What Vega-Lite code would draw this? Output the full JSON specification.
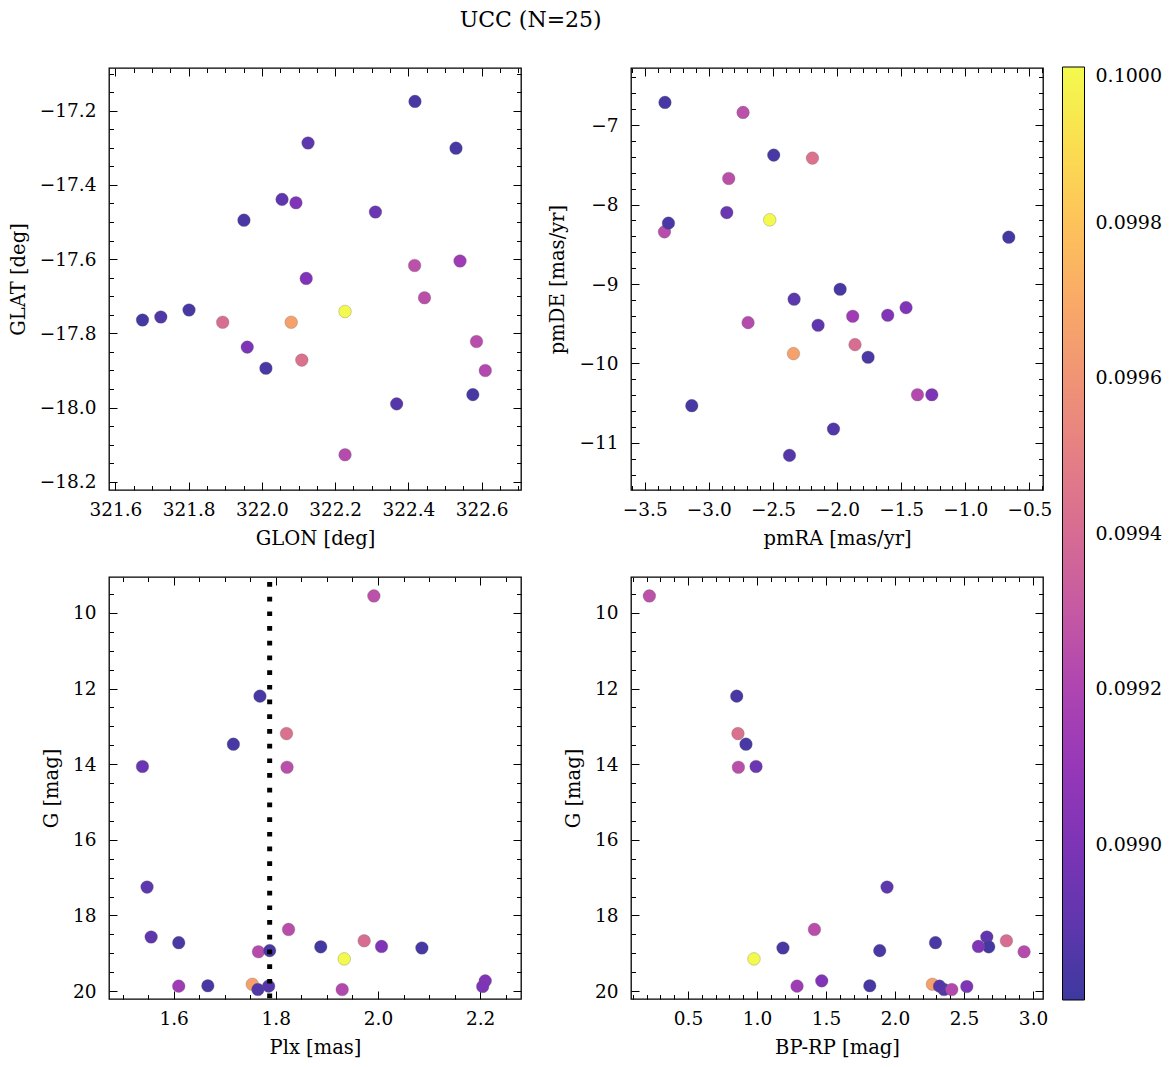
{
  "$schema": "https://vega.github.io/schema/vega-lite/v6.json",
  "padding": {"left": 7, "top": 8, "right": 0, "bottom": 0},
  "background": "white",
  "title": {"text": "UCC (N=25)", "anchor": "start", "dx": 452, "offset": 32, "font": "DejaVu Serif", "fontSize": 22, "fontWeight": "normal", "color": "black"},
  "config": {
    "font": "DejaVu Serif",
    "view": {"stroke": "black", "strokeWidth": 1.3},
    "axis": {"grid": false, "domain": false, "tickColor": "black", "tickWidth": 1, "labelFont": "DejaVu Serif", "labelFontSize": 18.5, "labelColor": "black", "titleFont": "DejaVu Serif", "titleFontSize": 19.5, "titleFontWeight": "normal", "titleColor": "black", "labelFlush": false, "labelOverlap": false},
    "axisX": {"labelPadding": 18, "titlePadding": 7},
    "axisY": {"labelPadding": 21, "titlePadding": 11},
    "legend": {"orient": "none", "legendX": 953.5, "legendY": -1, "gradientLength": 933, "gradientThickness": 22, "gradientStrokeColor": "black", "gradientStrokeWidth": 1, "labelFont": "DejaVu Serif", "labelFontSize": 19, "labelColor": "black", "labelOffset": 11, "labelOverlap": false, "padding": 0, "direction": "vertical"}
  },
  "datasets": {
    "stars": [
      {"GLON": 322.417, "GLAT": -17.617, "pmRA": -2.733, "pmDE": -6.841, "Plx": 1.992, "G": 9.55, "BPRP": 0.220, "prob": 0.09926},
      {"GLON": 322.418, "GLAT": -17.175, "pmRA": -3.342, "pmDE": -6.715, "Plx": 1.769, "G": 12.20, "BPRP": 0.853, "prob": 0.09883},
      {"GLON": 322.109, "GLAT": -17.872, "pmRA": -2.192, "pmDE": -7.416, "Plx": 1.821, "G": 13.19, "BPRP": 0.862, "prob": 0.09943},
      {"GLON": 322.530, "GLAT": -17.301, "pmRA": -2.494, "pmDE": -7.378, "Plx": 1.717, "G": 13.47, "BPRP": 0.920, "prob": 0.09883},
      {"GLON": 322.310, "GLAT": -17.473, "pmRA": -2.860, "pmDE": -8.101, "Plx": 1.539, "G": 14.06, "BPRP": 0.993, "prob": 0.09893},
      {"GLON": 322.444, "GLAT": -17.704, "pmRA": -2.845, "pmDE": -7.672, "Plx": 1.822, "G": 14.08, "BPRP": 0.865, "prob": 0.09925},
      {"GLON": 322.126, "GLAT": -17.287, "pmRA": -2.335, "pmDE": -9.191, "Plx": 1.548, "G": 17.25, "BPRP": 1.942, "prob": 0.09889},
      {"GLON": 322.586, "GLAT": -17.822, "pmRA": -3.346, "pmDE": -8.344, "Plx": 1.825, "G": 18.37, "BPRP": 1.416, "prob": 0.09924},
      {"GLON": 322.055, "GLAT": -17.439, "pmRA": -2.148, "pmDE": -9.519, "Plx": 1.556, "G": 18.57, "BPRP": 2.665, "prob": 0.09890},
      {"GLON": 321.893, "GLAT": -17.770, "pmRA": -1.860, "pmDE": -9.763, "Plx": 1.973, "G": 18.67, "BPRP": 2.807, "prob": 0.09941},
      {"GLON": 321.951, "GLAT": -17.495, "pmRA": -3.315, "pmDE": -8.234, "Plx": 1.610, "G": 18.72, "BPRP": 2.293, "prob": 0.09884},
      {"GLON": 321.674, "GLAT": -17.764, "pmRA": -0.661, "pmDE": -8.411, "Plx": 1.888, "G": 18.83, "BPRP": 2.679, "prob": 0.09882},
      {"GLON": 322.093, "GLAT": -17.448, "pmRA": -1.462, "pmDE": -9.297, "Plx": 2.007, "G": 18.82, "BPRP": 2.604, "prob": 0.09901},
      {"GLON": 321.801, "GLAT": -17.737, "pmRA": -1.976, "pmDE": -9.066, "Plx": 2.086, "G": 18.86, "BPRP": 1.188, "prob": 0.09883},
      {"GLON": 322.227, "GLAT": -18.127, "pmRA": -2.694, "pmDE": -9.486, "Plx": 1.766, "G": 18.96, "BPRP": 2.935, "prob": 0.09923},
      {"GLON": 322.011, "GLAT": -17.894, "pmRA": -1.758, "pmDE": -9.922, "Plx": 1.788, "G": 18.93, "BPRP": 1.889, "prob": 0.09884},
      {"GLON": 322.227, "GLAT": -17.741, "pmRA": -2.525, "pmDE": -8.193, "Plx": 1.934, "G": 19.15, "BPRP": 0.978, "prob": 0.10000},
      {"GLON": 322.121, "GLAT": -17.652, "pmRA": -1.605, "pmDE": -9.393, "Plx": 2.210, "G": 19.73, "BPRP": 1.469, "prob": 0.09902},
      {"GLON": 321.960, "GLAT": -17.837, "pmRA": -1.261, "pmDE": -10.393, "Plx": 2.205, "G": 19.88, "BPRP": 2.520, "prob": 0.09900},
      {"GLON": 322.541, "GLAT": -17.605, "pmRA": -1.878, "pmDE": -9.406, "Plx": 1.610, "G": 19.87, "BPRP": 1.290, "prob": 0.09914},
      {"GLON": 322.576, "GLAT": -17.965, "pmRA": -3.133, "pmDE": -10.531, "Plx": 1.667, "G": 19.86, "BPRP": 1.817, "prob": 0.09883},
      {"GLON": 322.080, "GLAT": -17.770, "pmRA": -2.340, "pmDE": -9.876, "Plx": 1.754, "G": 19.82, "BPRP": 2.271, "prob": 0.09966},
      {"GLON": 321.724, "GLAT": -17.756, "pmRA": -2.028, "pmDE": -10.825, "Plx": 1.765, "G": 19.96, "BPRP": 2.355, "prob": 0.09886},
      {"GLON": 322.368, "GLAT": -17.990, "pmRA": -2.371, "pmDE": -11.156, "Plx": 1.786, "G": 19.87, "BPRP": 2.322, "prob": 0.09887},
      {"GLON": 322.610, "GLAT": -17.900, "pmRA": -1.373, "pmDE": -10.393, "Plx": 1.930, "G": 19.96, "BPRP": 2.411, "prob": 0.09922}
    ],
    "plxline": [{"Plx": 1.788}]
  },
  "columns": 2,
  "spacing": {"row": 87, "column": 110},
  "bounds": "flush",
  "resolve": {"scale": {"color": "shared"}, "legend": {"color": "shared"}},
  "concat": [
    {
      "width": 412, "height": 422,
      "data": {"name": "stars"},
      "resolve": {"axis": {"x": "independent", "y": "independent"}},
      "layer": [
        {
          "mark": {"type": "circle", "size": 160, "opacity": 1, "stroke": "#666666", "strokeWidth": 0.5, "strokeOpacity": 0.6},
          "encoding": {
            "x": {"field": "GLON", "type": "quantitative", "title": "GLON [deg]", "scale": {"domain": [321.5825, 322.7075], "nice": false, "zero": false},
              "axis": {"orient": "bottom", "values": [321.6,321.65,321.7,321.75,321.8,321.85,321.9,321.95,322,322.05,322.1,322.15,322.2,322.25,322.3,322.35,322.4,322.45,322.5,322.55,322.6,322.65,322.7],
                "labelExpr": "abs(datum.value*5-round(datum.value*5))<0.01 ? format(datum.value,'.1f') : ''",
                "tickSize": {"condition": {"test": "abs(datum.value*5-round(datum.value*5))<0.01", "value": -8}, "value": -4.5}}},
            "y": {"field": "GLAT", "type": "quantitative", "title": "GLAT [deg]", "scale": {"domain": [-18.222, -17.085], "nice": false, "zero": false},
              "axis": {"orient": "left", "values": [-18.2,-18.15,-18.1,-18.05,-18,-17.95,-17.9,-17.85,-17.8,-17.75,-17.7,-17.65,-17.6,-17.55,-17.5,-17.45,-17.4,-17.35,-17.3,-17.25,-17.2,-17.15,-17.1],
                "labelExpr": "abs(datum.value*5-round(datum.value*5))<0.01 ? format(datum.value,'.1f') : ''",
                "tickSize": {"condition": {"test": "abs(datum.value*5-round(datum.value*5))<0.01", "value": -8}, "value": -4.5}}},
            "color": {"field": "prob", "type": "quantitative", "title": null,
              "scale": {"type": "linear", "domain": [0.0988,0.09892,0.09904,0.09916,0.09928,0.0994,0.09952,0.09964,0.09976,0.09988,0.1], "range": ["#3d399f","#6736b1","#8833b9","#a53db6","#c155a6","#d66c93","#e78381","#f59d6f","#fdb85e","#fdd851","#f3fa4d"], "interpolate": "rgb"},
              "legend": {"values": [0.099,0.0992,0.0994,0.0996,0.0998,0.1], "format": ".4f", "labelOffset": 11}}
          }
        },
        {
          "mark": {"type": "circle", "opacity": 0},
          "encoding": {
            "x": {"field": "GLON", "type": "quantitative", "scale": {"domain": [321.5825, 322.7075], "nice": false, "zero": false},
              "axis": {"orient": "top", "title": null, "labels": false, "values": [321.6,321.65,321.7,321.75,321.8,321.85,321.9,321.95,322,322.05,322.1,322.15,322.2,322.25,322.3,322.35,322.4,322.45,322.5,322.55,322.6,322.65,322.7],
                "tickSize": {"condition": {"test": "abs(datum.value*5-round(datum.value*5))<0.01", "value": -8}, "value": -4.5}}},
            "y": {"field": "GLAT", "type": "quantitative", "scale": {"domain": [-18.222, -17.085], "nice": false, "zero": false},
              "axis": {"orient": "right", "title": null, "labels": false, "values": [-18.2,-18.15,-18.1,-18.05,-18,-17.95,-17.9,-17.85,-17.8,-17.75,-17.7,-17.65,-17.6,-17.55,-17.5,-17.45,-17.4,-17.35,-17.3,-17.25,-17.2,-17.15,-17.1],
                "tickSize": {"condition": {"test": "abs(datum.value*5-round(datum.value*5))<0.01", "value": -8}, "value": -4.5}}}
          }
        }
      ]
    },
    {
      "width": 412, "height": 422,
      "data": {"name": "stars"},
      "resolve": {"axis": {"x": "independent", "y": "independent"}},
      "layer": [
        {
          "mark": {"type": "circle", "size": 160, "opacity": 1, "stroke": "#666666", "strokeWidth": 0.5, "strokeOpacity": 0.6},
          "encoding": {
            "x": {"field": "pmRA", "type": "quantitative", "title": "pmRA [mas/yr]", "scale": {"domain": [-3.607, -0.394], "nice": false, "zero": false},
              "axis": {"orient": "bottom", "values": [-3.6,-3.5,-3.4,-3.3,-3.2,-3.1,-3,-2.9,-2.8,-2.7,-2.6,-2.5,-2.4,-2.3,-2.2,-2.1,-2,-1.9,-1.8,-1.7,-1.6,-1.5,-1.4,-1.3,-1.2,-1.1,-1,-0.9,-0.8,-0.7,-0.6,-0.5,-0.4],
                "labelExpr": "abs(datum.value*2-round(datum.value*2))<0.01 ? format(datum.value,'.1f') : ''",
                "tickSize": {"condition": {"test": "abs(datum.value*2-round(datum.value*2))<0.01", "value": -8}, "value": -4.5}}},
            "y": {"field": "pmDE", "type": "quantitative", "title": "pmDE [mas/yr]", "scale": {"domain": [-11.592, -6.282], "nice": false, "zero": false},
              "axis": {"orient": "left", "values": [-11.4,-11.2,-11,-10.8,-10.6,-10.4,-10.2,-10,-9.8,-9.6,-9.4,-9.2,-9,-8.8,-8.6,-8.4,-8.2,-8,-7.8,-7.6,-7.4,-7.2,-7,-6.8,-6.6,-6.4],
                "labelExpr": "abs(datum.value-round(datum.value))<0.01 ? format(datum.value,'d') : ''",
                "tickSize": {"condition": {"test": "abs(datum.value-round(datum.value))<0.01", "value": -8}, "value": -4.5}}},
            "color": {"field": "prob", "type": "quantitative", "title": null,
              "scale": {"type": "linear", "domain": [0.0988,0.09892,0.09904,0.09916,0.09928,0.0994,0.09952,0.09964,0.09976,0.09988,0.1], "range": ["#3d399f","#6736b1","#8833b9","#a53db6","#c155a6","#d66c93","#e78381","#f59d6f","#fdb85e","#fdd851","#f3fa4d"], "interpolate": "rgb"},
              "legend": {"values": [0.099,0.0992,0.0994,0.0996,0.0998,0.1], "format": ".4f", "labelOffset": 11}}
          }
        },
        {
          "mark": {"type": "circle", "opacity": 0},
          "encoding": {
            "x": {"field": "pmRA", "type": "quantitative", "scale": {"domain": [-3.607, -0.394], "nice": false, "zero": false},
              "axis": {"orient": "top", "title": null, "labels": false, "values": [-3.6,-3.5,-3.4,-3.3,-3.2,-3.1,-3,-2.9,-2.8,-2.7,-2.6,-2.5,-2.4,-2.3,-2.2,-2.1,-2,-1.9,-1.8,-1.7,-1.6,-1.5,-1.4,-1.3,-1.2,-1.1,-1,-0.9,-0.8,-0.7,-0.6,-0.5,-0.4],
                "tickSize": {"condition": {"test": "abs(datum.value*2-round(datum.value*2))<0.01", "value": -8}, "value": -4.5}}},
            "y": {"field": "pmDE", "type": "quantitative", "scale": {"domain": [-11.592, -6.282], "nice": false, "zero": false},
              "axis": {"orient": "right", "title": null, "labels": false, "values": [-11.4,-11.2,-11,-10.8,-10.6,-10.4,-10.2,-10,-9.8,-9.6,-9.4,-9.2,-9,-8.8,-8.6,-8.4,-8.2,-8,-7.8,-7.6,-7.4,-7.2,-7,-6.8,-6.6,-6.4],
                "tickSize": {"condition": {"test": "abs(datum.value-round(datum.value))<0.01", "value": -8}, "value": -4.5}}}
          }
        }
      ]
    },
    {
      "width": 412, "height": 422,
      "resolve": {"axis": {"x": "independent", "y": "independent"}},
      "layer": [
        {
          "data": {"name": "stars"},
          "mark": {"type": "circle", "size": 160, "opacity": 1, "stroke": "#666666", "strokeWidth": 0.5, "strokeOpacity": 0.6},
          "encoding": {
            "x": {"field": "Plx", "type": "quantitative", "title": "Plx [mas]", "scale": {"domain": [1.4735, 2.28], "nice": false, "zero": false},
              "axis": {"orient": "bottom", "values": [1.5,1.55,1.6,1.65,1.7,1.75,1.8,1.85,1.9,1.95,2,2.05,2.1,2.15,2.2,2.25],
                "labelExpr": "abs(datum.value*5-round(datum.value*5))<0.01 ? format(datum.value,'.1f') : ''",
                "tickSize": {"condition": {"test": "abs(datum.value*5-round(datum.value*5))<0.01", "value": -8}, "value": -4.5}}},
            "y": {"field": "G", "type": "quantitative", "title": "G [mag]", "scale": {"domain": [9.049, 20.21], "reverse": true, "nice": false, "zero": false},
              "axis": {"orient": "left", "values": [9.5,10,10.5,11,11.5,12,12.5,13,13.5,14,14.5,15,15.5,16,16.5,17,17.5,18,18.5,19,19.5,20],
                "labelExpr": "abs(datum.value/2-round(datum.value/2))<0.01 ? format(datum.value,'d') : ''",
                "tickSize": {"condition": {"test": "abs(datum.value/2-round(datum.value/2))<0.01", "value": -8}, "value": -4.5}}},
            "color": {"field": "prob", "type": "quantitative", "title": null,
              "scale": {"type": "linear", "domain": [0.0988,0.09892,0.09904,0.09916,0.09928,0.0994,0.09952,0.09964,0.09976,0.09988,0.1], "range": ["#3d399f","#6736b1","#8833b9","#a53db6","#c155a6","#d66c93","#e78381","#f59d6f","#fdb85e","#fdd851","#f3fa4d"], "interpolate": "rgb"},
              "legend": {"values": [0.099,0.0992,0.0994,0.0996,0.0998,0.1], "format": ".4f", "labelOffset": 11}}
          }
        },
        {
          "data": {"name": "stars"},
          "mark": {"type": "circle", "opacity": 0},
          "encoding": {
            "x": {"field": "Plx", "type": "quantitative", "scale": {"domain": [1.4735, 2.28], "nice": false, "zero": false},
              "axis": {"orient": "top", "title": null, "labels": false, "values": [1.5,1.55,1.6,1.65,1.7,1.75,1.8,1.85,1.9,1.95,2,2.05,2.1,2.15,2.2,2.25],
                "tickSize": {"condition": {"test": "abs(datum.value*5-round(datum.value*5))<0.01", "value": -8}, "value": -4.5}}},
            "y": {"field": "G", "type": "quantitative", "scale": {"domain": [9.049, 20.21], "reverse": true, "nice": false, "zero": false},
              "axis": {"orient": "right", "title": null, "labels": false, "values": [9.5,10,10.5,11,11.5,12,12.5,13,13.5,14,14.5,15,15.5,16,16.5,17,17.5,18,18.5,19,19.5,20],
                "tickSize": {"condition": {"test": "abs(datum.value/2-round(datum.value/2))<0.01", "value": -8}, "value": -4.5}}}
          }
        },
        {
          "data": {"name": "plxline"},
          "mark": {"type": "rule", "color": "black", "strokeWidth": 5, "strokeDash": [4.7, 10], "strokeDashOffset": 9.7},
          "encoding": {
            "x": {"field": "Plx", "type": "quantitative", "axis": null, "scale": {"domain": [1.4735, 2.28], "nice": false, "zero": false}}
          }
        }
      ]
    },
    {
      "width": 412, "height": 422,
      "data": {"name": "stars"},
      "resolve": {"axis": {"x": "independent", "y": "independent"}},
      "layer": [
        {
          "mark": {"type": "circle", "size": 160, "opacity": 1, "stroke": "#666666", "strokeWidth": 0.5, "strokeOpacity": 0.6},
          "encoding": {
            "x": {"field": "BPRP", "type": "quantitative", "title": "BP-RP [mag]", "scale": {"domain": [0.087, 3.072], "nice": false, "zero": false},
              "axis": {"orient": "bottom", "values": [0.1,0.2,0.3,0.4,0.5,0.6,0.7,0.8,0.9,1,1.1,1.2,1.3,1.4,1.5,1.6,1.7,1.8,1.9,2,2.1,2.2,2.3,2.4,2.5,2.6,2.7,2.8,2.9,3],
                "labelExpr": "abs(datum.value*2-round(datum.value*2))<0.01 ? format(datum.value,'.1f') : ''",
                "tickSize": {"condition": {"test": "abs(datum.value*2-round(datum.value*2))<0.01", "value": -8}, "value": -4.5}}},
            "y": {"field": "G", "type": "quantitative", "title": "G [mag]", "scale": {"domain": [9.049, 20.21], "reverse": true, "nice": false, "zero": false},
              "axis": {"orient": "left", "values": [9.5,10,10.5,11,11.5,12,12.5,13,13.5,14,14.5,15,15.5,16,16.5,17,17.5,18,18.5,19,19.5,20],
                "labelExpr": "abs(datum.value/2-round(datum.value/2))<0.01 ? format(datum.value,'d') : ''",
                "tickSize": {"condition": {"test": "abs(datum.value/2-round(datum.value/2))<0.01", "value": -8}, "value": -4.5}}},
            "color": {"field": "prob", "type": "quantitative", "title": null,
              "scale": {"type": "linear", "domain": [0.0988,0.09892,0.09904,0.09916,0.09928,0.0994,0.09952,0.09964,0.09976,0.09988,0.1], "range": ["#3d399f","#6736b1","#8833b9","#a53db6","#c155a6","#d66c93","#e78381","#f59d6f","#fdb85e","#fdd851","#f3fa4d"], "interpolate": "rgb"},
              "legend": {"values": [0.099,0.0992,0.0994,0.0996,0.0998,0.1], "format": ".4f", "labelOffset": 11}}
          }
        },
        {
          "mark": {"type": "circle", "opacity": 0},
          "encoding": {
            "x": {"field": "BPRP", "type": "quantitative", "scale": {"domain": [0.087, 3.072], "nice": false, "zero": false},
              "axis": {"orient": "top", "title": null, "labels": false, "values": [0.1,0.2,0.3,0.4,0.5,0.6,0.7,0.8,0.9,1,1.1,1.2,1.3,1.4,1.5,1.6,1.7,1.8,1.9,2,2.1,2.2,2.3,2.4,2.5,2.6,2.7,2.8,2.9,3],
                "tickSize": {"condition": {"test": "abs(datum.value*2-round(datum.value*2))<0.01", "value": -8}, "value": -4.5}}},
            "y": {"field": "G", "type": "quantitative", "scale": {"domain": [9.049, 20.21], "reverse": true, "nice": false, "zero": false},
              "axis": {"orient": "right", "title": null, "labels": false, "values": [9.5,10,10.5,11,11.5,12,12.5,13,13.5,14,14.5,15,15.5,16,16.5,17,17.5,18,18.5,19,19.5,20],
                "tickSize": {"condition": {"test": "abs(datum.value/2-round(datum.value/2))<0.01", "value": -8}, "value": -4.5}}}
          }
        }
      ]
    }
  ]
}
